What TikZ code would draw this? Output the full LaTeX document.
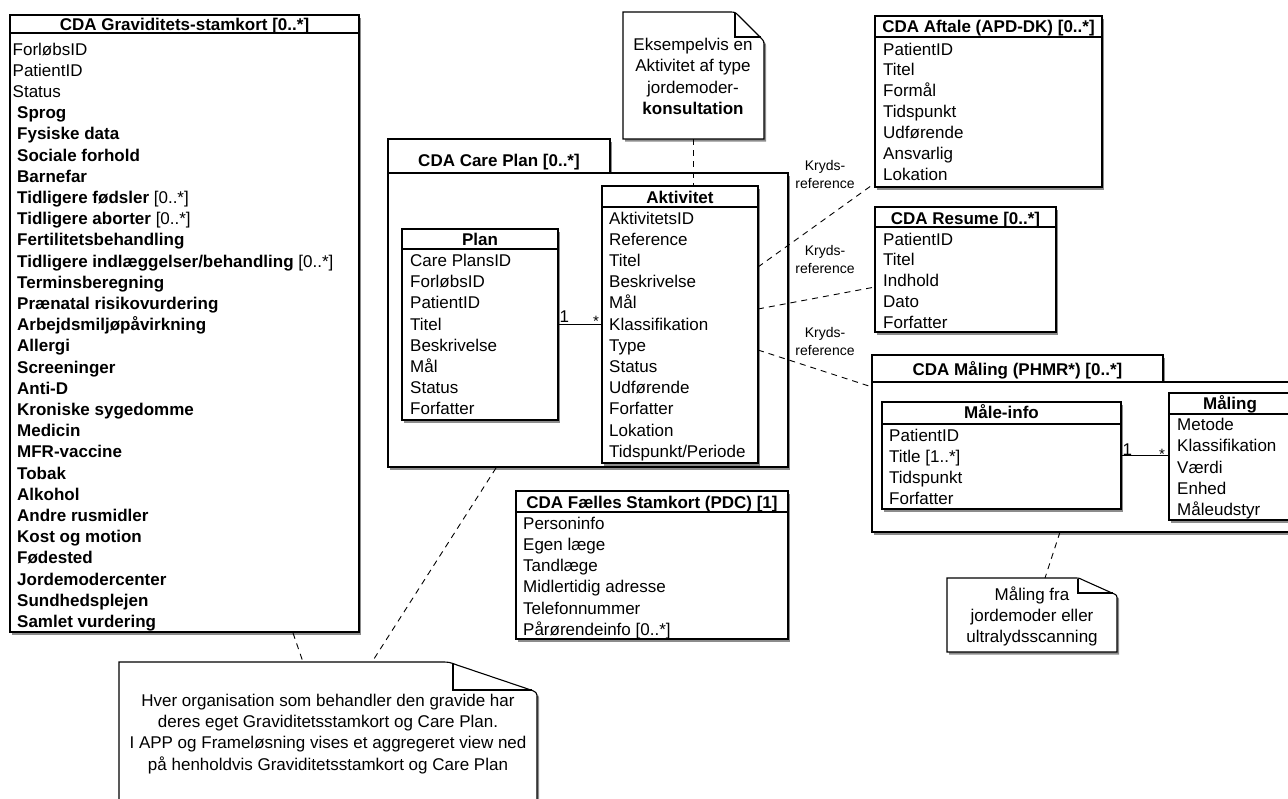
\documentclass[tikz,border=0pt]{standalone}
\usepackage{fontspec}
\setmainfont{Liberation Sans}
\usetikzlibrary{fit,shadows}
\tikzset{
  shad/.style={drop shadow={shadow xshift=2.2pt, shadow yshift=-2.6pt, opacity=0.45, fill=black}},
  cls/.style={draw, line width=1.1pt, fill=white, inner sep=0pt, shad},
  ghost/.style={inner sep=0pt, draw=none},
  notepath/.style={draw, line width=1.1pt, fill=white, shad},
  attr/.style={font=\fontsize{17}{20}\selectfont, inner sep=0pt, anchor=base west},
  ttl/.style={font=\fontsize{17}{20}\selectfont\bfseries, inner sep=0pt, anchor=base},
  ntxt/.style={font=\fontsize{17}{20}\selectfont, inner sep=0pt, anchor=base},
  kryds/.style={font=\fontsize{14}{17}\selectfont, inner sep=0pt, anchor=base},
  hline/.style={line width=1.1pt},
  foldline/.style={line width=1.1pt},
  dline/.style={line width=0.9pt, dash pattern=on 6pt off 5pt},
  assoc/.style={line width=1.1pt},
  mult/.style={font=\fontsize{17}{20}\selectfont, inner sep=0pt, anchor=base west},
  star/.style={font=\fontsize{15}{18}\selectfont, inner sep=0pt, anchor=base},
}
\begin{document}
\begin{tikzpicture}[x=1pt,y=-1pt]
\clip (0,0) rectangle (1288,798);
\fill[white] (0,0) rectangle (1288,798);

% ---------- CDA Graviditets-stamkort ----------
\node[cls, fit={(10,15) (359,632)}] (grav) {};
\draw[hline] (10,33) -- (359,33);
\node[ttl] (grav-t) at (184.5,30) {CDA Graviditets-stamkort [0..*]};
\foreach \lbl [count=\i] in {ForløbsID, PatientID, Status, \textbf{Sprog}, \textbf{Fysiske data},
  \textbf{Sociale forhold}, \textbf{Barnefar}, {\textbf{Tidligere fødsler} [0..*]},
  {\textbf{Tidligere aborter} [0..*]}, \textbf{Fertilitetsbehandling},
  {\textbf{Tidligere indlæggelser/behandling} [0..*]}, \textbf{Terminsberegning},
  \textbf{Prænatal risikovurdering}, \textbf{Arbejdsmiljøpåvirkning}, \textbf{Allergi},
  \textbf{Screeninger}, \textbf{Anti-D}, \textbf{Kroniske sygedomme}, \textbf{Medicin},
  \textbf{MFR-vaccine}, \textbf{Tobak}, \textbf{Alkohol}, \textbf{Andre rusmidler},
  \textbf{Kost og motion}, \textbf{Fødested}, \textbf{Jordemodercenter},
  \textbf{Sundhedsplejen}, \textbf{Samlet vurdering}} {
  \pgfmathsetmacro{\yy}{55+21.2*(\i-1)}
  \ifnum\i<4 \def\xx{12.5}\else\def\xx{17}\fi
  \node[attr] (grav-\i) at (\xx,\yy) {\lbl};
}

% ---------- Note: Eksempelvis ----------
\path[notepath] (623,12) -- (729,12) .. controls (735,12) .. (739,16) -- (760,37)
  .. controls (764,41) .. (764,47) -- (764,139) -- (623,139) -- cycle;
\draw[foldline] (735,13) -- (735,37) -- (761,37);
\node[ghost, fit={(623,12) (764,139)}] (ekn) {};
\node[ntxt] (ek-1) at (693,50) {Eksempelvis en};
\node[ntxt] (ek-2) at (693,71.5) {Aktivitet af type};
\node[ntxt] (ek-3) at (693,93) {jordemoder-};
\node[ntxt] (ek-4) at (693,114.3) {\textbf{konsultation}};

% ---------- CDA Care Plan ----------
\node[cls, fit={(388,139) (610,173)}] (cp-tab) {};
\node[cls, fit={(388,173) (788,467)}] (cp) {};
\node[ttl] (cp-t) at (499,166) {CDA Care Plan [0..*]};

% Plan
\node[cls, fit={(402,229) (558,420)}] (plan) {};
\draw[hline] (402,249) -- (558,249);
\node[ttl] (plan-t) at (480,245) {Plan};
\foreach \lbl [count=\i] in {Care PlansID, ForløbsID, PatientID, Titel, Beskrivelse, Mål, Status, Forfatter} {
  \pgfmathsetmacro{\yy}{266.7+21.1*(\i-1)}
  \node[attr] (plan-\i) at (410,\yy) {\lbl};
}

% Aktivitet
\node[cls, fit={(602,186) (758,463)}] (akt) {};
\draw[hline] (602,207) -- (758,207);
\node[ttl] (akt-t) at (680,203) {Aktivitet};
\foreach \lbl [count=\i] in {AktivitetsID, Reference, Titel, Beskrivelse, Mål, Klassifikation, Type, Status, Udførende, Forfatter, Lokation, Tidspunkt/Periode} {
  \pgfmathsetmacro{\yy}{224+21.2*(\i-1)}
  \node[attr] (akt-\i) at (609,\yy) {\lbl};
}

% association Plan - Aktivitet
\draw[assoc] (plan.east) -- (plan.east -| akt.west);
\node[mult] (plan-m) at (559.5,322) {1};
\node[star] (akt-m) at (596,326.5) {*};
\draw[dline] (ekn.south) -- (ekn.south |- akt.north);

% ---------- CDA Aftale ----------
\node[cls, fit={(875,16) (1102,187)}] (aft) {};
\draw[hline] (875,37) -- (1102,37);
\node[ttl] (aft-t) at (988.5,32) {CDA Aftale (APD-DK) [0..*]};
\foreach \lbl [count=\i] in {PatientID, Titel, Formål, Tidspunkt, Udførende, Ansvarlig, Lokation} {
  \pgfmathsetmacro{\yy}{55+20.85*(\i-1)}
  \node[attr] (aft-\i) at (883,\yy) {\lbl};
}

% ---------- CDA Resume ----------
\node[cls, fit={(875,207) (1056,332)}] (res) {};
\draw[hline] (875,227) -- (1056,227);
\node[ttl] (res-t) at (965.5,224) {CDA Resume [0..*]};
\foreach \lbl [count=\i] in {PatientID, Titel, Indhold, Dato, Forfatter} {
  \pgfmathsetmacro{\yy}{245+20.85*(\i-1)}
  \node[attr] (res-\i) at (883,\yy) {\lbl};
}

% ---------- CDA Maaling package ----------
\node[cls, fit={(872,355) (1163,382)}] (mp-tab) {};
\node[cls, fit={(872,382) (1300,532)}] (mp) {};
\node[ttl] (mp-t) at (1017.5,375) {CDA Måling (PHMR*) [0..*]};

% Maale-info
\node[cls, fit={(882,402) (1121,509)}] (mi) {};
\draw[hline] (882,424) -- (1121,424);
\node[ttl] (mi-t) at (1001.5,418) {Måle-info};
\foreach \lbl [count=\i] in {PatientID, Title [1..*], Tidspunkt, Forfatter} {
  \pgfmathsetmacro{\yy}{441+21.3*(\i-1)}
  \node[attr] (mi-\i) at (889,\yy) {\lbl};
}

% Maaling
\node[cls, fit={(1169,393) (1292,520)}] (mal) {};
\draw[hline] (1169,414) -- (1292,414);
\node[ttl] (mal-t) at (1230,409) {Måling};
\foreach \lbl [count=\i] in {Metode, Klassifikation, Værdi, Enhed, Måleudstyr} {
  \pgfmathsetmacro{\yy}{430.7+21.25*(\i-1)}
  \node[attr] (mal-\i) at (1177,\yy) {\lbl};
}
\draw[assoc] (mi.east) -- (mi.east -| mal.west);
\node[mult] (mi-m) at (1122.5,455) {1};
\node[star] (mal-m) at (1162,459) {*};

% ---------- Note: Maaling fra ----------
\path[notepath] (947,578) -- (1074,578) .. controls (1079,578) .. (1083,580) -- (1112,593)
  .. controls (1117,595) .. (1117,600) -- (1117,652) -- (947,652) -- cycle;
\draw[foldline] (1078,579) -- (1078,593) -- (1113,593);
\node[ghost, fit={(947,578) (1117,652)}] (mn) {};
\node[ntxt] (mn-1) at (1032,600) {Måling fra};
\node[ntxt] (mn-2) at (1032,621) {jordemoder eller};
\node[ntxt] (mn-3) at (1032,642) {ultralydsscanning};
\coordinate (mp-n) at (1060,532);
\coordinate (mn-t) at (1045,578);
\draw[dline] (mp-n) -- (mn-t);

% ---------- CDA Faelles Stamkort ----------
\node[cls, fit={(516,491) (788,639)}] (fs) {};
\draw[hline] (516,512) -- (788,512);
\node[ttl] (fs-t) at (652,508) {CDA Fælles Stamkort (PDC) [1]};
\foreach \lbl [count=\i] in {Personinfo, Egen læge, Tandlæge, Midlertidig adresse, Telefonnummer, Pårørendeinfo [0..*]} {
  \pgfmathsetmacro{\yy}{529+21.3*(\i-1)}
  \node[attr] (fs-\i) at (523,\yy) {\lbl};
}

% ---------- Big note ----------
\path[notepath] (119,662) -- (440,662) .. controls (449,662) .. (457,665) -- (528,689)
  .. controls (537,692) .. (537,699) -- (537,830) -- (119,830) -- cycle;
\draw[foldline] (453,663) -- (453,690) -- (532,690);
\node[ghost, fit={(119,662) (537,830)}] (bn) {};
\node[ntxt] (bn-1) at (328,706) {Hver organisation som behandler den gravide har};
\node[ntxt] (bn-2) at (328,727.5) {deres eget Graviditetsstamkort og Care Plan.};
\node[ntxt] (bn-3) at (328,748.8) {I APP og Frameløsning vises et aggregeret view ned};
\node[ntxt] (bn-4) at (328,770) {på henholdvis Graviditetsstamkort og Care Plan};
\coordinate (grav-n) at (293,633);
\coordinate (bn-a) at (303,662);
\coordinate (cp-n) at (496,468);
\coordinate (bn-b) at (372,662);
\draw[dline] (grav-n) -- (bn-a);
\draw[dline] (cp-n) -- (bn-b);

% ---------- Kryds-reference connectors ----------
\coordinate (akt-k1) at (758,267);
\coordinate (aft-k) at (875,183);
\coordinate (akt-k2) at (758,309);
\coordinate (res-k) at (875,287);
\coordinate (akt-k3) at (758,350);
\coordinate (mp-k) at (872,387);
\draw[dline] (akt-k1) -- (aft-k);
\draw[dline] (akt-k2) -- (res-k);
\draw[dline] (akt-k3) -- (mp-k);
\node[kryds] (kr1a) at (825,170) {Kryds-};
\node[kryds] (kr1b) at (825,188) {reference};
\node[kryds] (kr2a) at (825,255) {Kryds-};
\node[kryds] (kr2b) at (825,273) {reference};
\node[kryds] (kr3a) at (825,337) {Kryds-};
\node[kryds] (kr3b) at (825,355) {reference};
\end{tikzpicture}
\end{document}
